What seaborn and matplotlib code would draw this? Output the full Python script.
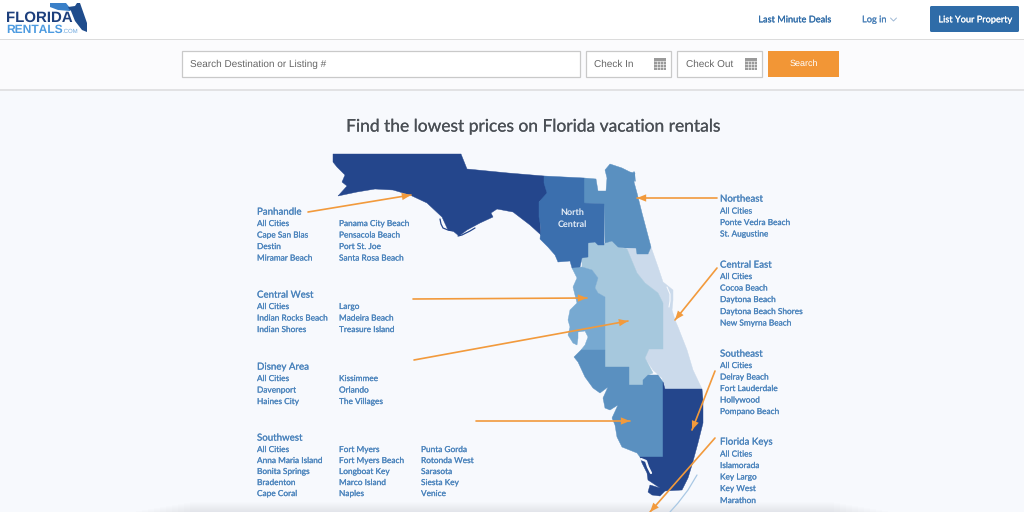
import matplotlib
matplotlib.use("Agg")
import matplotlib.pyplot as plt
import matplotlib.patches as mpatches
import matplotlib.patheffects as pe
import pandas as pd
import seaborn as sns

# region outlines in page pixels
panhandle = [(333,154),(461,154),(467,169),(508,173),(544,176),(548,195),(539,202),(541,235),(530,225),(513,212),
             (497,209),(491,213),(493,217),(480,223),(467,230),(459,236),(453,231),(448,230),(442,217),(427,203),
             (410,195),(393,190),(375,189),(357,192),(338,196),(347,186),(342,182),(345,175),(337,167),(333,162)]
north_central = [(544,176),(584,178),(584,203),(604,204),(604,245),(598,245),(595,242),(588,243),(588,257),(582,258),
                 (580,267),(572,268),(570,261),(558,262),(555,255),(548,247),(540,239),(541,228),(539,217),(539,202),
                 (547,193),(544,183)]
northeast = [(584,178),(596,179),(598,191),(606,191),(607,178),(605,170),(610,164),(622,168),(630,172),(635,173),
             (634,182),(637,193),(642,213),(651,247),(648,254),(637,254),(636,248),(625,248),(618,247),(612,241),
             (605,243),(604,204),(584,203)]
central_east = [(651,247),(658,267),(663,282),(673,290),(673,300),(672,310),(675,320),(678,327),(687,350),(693,370),(702,389),
                (665,389),(662,378),(653,370),(645,358),(649,349),(663,349),(663,303),(658,293),(645,283),(637,273),(627,249),
                (636,248),(637,254),(648,254)]
disney_area = [(588,243),(595,242),(598,245),(605,243),(612,241),(618,247),(627,249),(637,273),(645,283),(658,293),
               (663,303),(663,349),(649,349),(645,358),(653,373),(648,375),(643,380),(643,385),(629,385),(629,367),
               (605,367),(605,297),(598,293),(595,288),(598,278),(592,270),(582,267),(582,258),(588,257)]
central_west = [(572,268),(582,267),(592,270),(598,278),(595,288),(598,293),(605,297),(605,350),(581,350),(585,345),
                (588,337),(585,331),(578,332),(578,338),(577,345),(573,343),(568,335),(570,327),(568,320),(570,310),
                (577,303),(573,287),(577,278)]
southwest = [(581,350),(605,350),(605,367),(629,367),(629,385),(643,385),(643,380),(648,375),(658,375),(663,382),
             (663,457),(640,457),(637,453),(622,447),(617,437),(615,425),(612,418),(618,405),(610,410),(605,408),
             (603,398),(608,387),(600,393),(593,388),(585,377),(578,362),(574,357)]
southeast = [(663,382),(665,389),(702,389),(703,400),(703,423),(698,443),(692,465),(688,478),(682,490),(665,491),
             (660,496),(652,495),(648,492),(650,485),(660,488),(648,480),(647,473),(642,463),(640,457),(663,457)]
keys_curve = [(697,475),(688,490),(678,503),(670,512)]
logo_west = [(50,3),(66,3),(70,8),(70,11),(58,10),(50,7)]
logo_east = [(66,3),(68,7),(75,6),(77,3),(80,3),(87,23),(87,32),(82,30),(75,21),(71,11),(69,9)]

regions = ["Panhandle", "Central West", "Disney Area", "Southwest", "Northeast", "Central East", "Southeast", "Florida Keys"]
cities = [
    ["All Cities", "Cape San Blas", "Destin", "Miramar Beach", "Panama City Beach", "Pensacola Beach", "Port St. Joe", "Santa Rosa Beach"],
    ["All Cities", "Indian Rocks Beach", "Indian Shores", "Largo", "Madeira Beach", "Treasure Island"],
    ["All Cities", "Davenport", "Haines City", "Kissimmee", "Orlando", "The Villages"],
    ["All Cities", "Anna Maria Island", "Bonita Springs", "Bradenton", "Cape Coral", "Fort Myers", "Fort Myers Beach", "Longboat Key",
     "Marco Island", "Naples", "Punta Gorda", "Rotonda West", "Sarasota", "Siesta Key", "Venice"],
    ["All Cities", "Ponte Vedra Beach", "St. Augustine"],
    ["All Cities", "Cocoa Beach", "Daytona Beach", "Daytona Beach Shores", "New Smyrna Beach"],
    ["All Cities", "Delray Beach", "Fort Lauderdale", "Hollywood", "Pompano Beach"],
    ["All Cities", "Islamorada", "Key Largo", "Key West", "Marathon"],
]
arrow_starts = [(308,212),(413,299),(414,360),(476,421),(717,198),(717,268),(715,371),(715,438)]
arrow_tips = [(411,195),(587,298),(628,321),(630,421),(637,198),(675,320),(692,430),(650,512)]

NAVY = "#24468c"
MID = "#3b6fae"
STEEL = "#5a90c0"
SKY = "#77a9d1"
PALE = "#a6c8dd"
MIST = "#cbdaeb"
LINK = "#4a83bc"
ORANGE = "#f29a3c"
PAGE = "#f7f9fd"

sns.set_theme(style="white")
plt.rcParams["font.family"] = ["Lato", "DejaVu Sans"]
plt.rcParams["text.hinting"] = "no_hinting"
plt.rcParams["text.hinting_factor"] = 1

fig, ax = plt.subplots(figsize=(10.24, 5.12), dpi=100)
fig.subplots_adjust(0, 0, 1, 1)
ax.set_xlim(0, 1024)
ax.set_ylim(512, 0)
ax.axis("off")


def box(x0, y0, x1, y1, face, edge="none", lw=0, z=1, alpha=None):
    ax.add_patch(mpatches.Rectangle((x0, y0), x1 - x0, y1 - y0, fc=face, ec=edge, lw=lw, zorder=z, alpha=alpha))


def label(x, y, s, size, color, stroke=0.12, **kw):
    t = ax.text(x, y + 0.8, s, fontsize=size * 0.72, color=color, zorder=10, va="center", **kw)
    # the page font is a bit heavier than Lato at this size
    if stroke:
        t.set_path_effects([pe.withStroke(linewidth=stroke, foreground=color)])


# page bands
box(0, 0, 1024, 512, PAGE, z=0)
box(0, 0, 1024, 39, "white")
box(0, 40, 1024, 89, "#fbfbfd")
box(0, 38.5, 1024, 40, "#dcdcdc", z=2)
box(0, 89, 1024, 90.5, "#e2e2e4", z=2)
# soft shadow at the bottom edge
for i in range(10):
    box(190 - i * 6, 502 + i, 834 + i * 6, 512, "#8a8f99", alpha=0.012, z=1)

# logo
ax.fill(*zip(*logo_west), color="#3a80c8", lw=0, zorder=3)
ax.fill(*zip(*logo_east), color="#1f4c8c", lw=0, zorder=3)
ax.text(6, 17.5, "FLORIDA", fontsize=10.8, color="#1d3f7c", fontweight="bold", family="Liberation Sans", va="center", zorder=5)
ax.text(6.5, 29.5, "RENTALS", fontsize=8.8, color="#4d9be0", fontweight="bold", family="Liberation Sans", va="center", zorder=5)
ax.text(62, 31, ".COM", fontsize=4.4, color="#6aa6dd", family="Liberation Sans", va="center", zorder=5)

# header nav
label(794, 19, "Last Minute Deals", 9.2, "#2f6ca8", ha="center")
label(874, 19, "Log in", 9.2, "#4a80b8", ha="center")
ax.plot([890.5, 893.5, 896.5], [18, 21, 18], color="#9db8d4", lw=0.7, zorder=5)
ax.add_patch(mpatches.FancyBboxPatch((930, 6), 89, 26, boxstyle="round,pad=0,rounding_size=1.5", fc="#2f6ca8", ec="none", zorder=3))
label(974.5, 19, "List Your Property", 9.2, "white", ha="center")

# search row
for x0, x1, txt in [(182, 580, "Search Destination or Listing #"), (586, 671, "Check In"), (677, 762, "Check Out")]:
    box(x0, 51, x1, 77, "white", "#c9c9c9", 0.9, z=3)
    ax.text(x0 + 8.5, 64, txt, fontsize=7.3, color="#666666", family="Liberation Sans", va="center", zorder=5)
for x0 in [654, 745]:
    box(x0, 57.5, x0 + 12, 70, "#9a9a9a", z=4)
    for k in range(1, 4):
        ax.plot([x0 + 3 * k] * 2, [61, 70], color="white", lw=0.4, zorder=5)
    for k in range(3):
        ax.plot([x0, x0 + 12], [61 + 3 * k] * 2, color="white", lw=0.4, zorder=5)
box(768, 51, 839, 77, "#f29636", z=3)
ax.text(803.5, 63.5, "Search", fontsize=6.6, color="white", family="Liberation Sans", ha="center", va="center", zorder=5)

label(529, 126, "Find the lowest prices on Florida vacation rentals", 17.4, "#4a4f55", ha="center")

# map
for shape, col in [(panhandle, NAVY), (central_east, MIST), (disney_area, PALE), (central_west, SKY),
                   (southwest, STEEL), (northeast, STEEL), (north_central, MID), (southeast, NAVY)]:
    ax.fill(*zip(*shape), fc=col, ec=col, lw=0.3, zorder=3)
ax.plot([440, 441, 443, 448, 453], [219, 224, 228, 230, 231], color=NAVY, lw=0.9, zorder=3)
ax.plot([458, 462, 470, 475], [236, 235, 231, 228], color=NAVY, lw=0.9, zorder=3)
ax.plot([462, 467], [231, 224], color=NAVY, lw=1.3, zorder=3)
ax.plot([667, 670, 670, 669], [287, 294, 301, 307], color=PAGE, lw=0.8, zorder=4)
ax.plot([634, 635], [172, 181], color=STEEL, lw=1, zorder=3)
ax.plot([641, 646, 648, 651], [459, 461, 467, 473], color=PAGE, lw=1.6, zorder=4)
ax.plot(*zip(*keys_curve), color="#a9c8e4", lw=0.9, zorder=3)
label(572.5, 212, "North", 9.3, "#e6eef7", stroke=0, ha="center", fontweight="bold")
label(572.5, 223.5, "Central", 9.3, "#e6eef7", stroke=0, ha="center", fontweight="bold")

# arrows
arrows = pd.DataFrame(
    [(i, *p) for i, pair in enumerate(zip(arrow_starts, arrow_tips)) for p in pair],
    columns=["arrow", "x", "y"],
)
sns.lineplot(data=arrows, x="x", y="y", units="arrow", estimator=None, sort=False, color=ORANGE, lw=1.2, ax=ax, zorder=6)
for start, tip in zip(arrow_starts, arrow_tips):
    ax.annotate("", xy=tip, xytext=start, zorder=6,
                arrowprops=dict(arrowstyle="-|>,head_length=0.55,head_width=0.22", color=ORANGE, lw=0, shrinkA=0, shrinkB=0,
                                mutation_scale=12))
ax.set_xlim(0, 1024)
ax.set_ylim(512, 0)

# link lists: heading, then columns of rows
heading_pos = [(257, 211), (257, 294), (257, 366), (257, 437), (720, 198), (720, 264), (720, 353), (720, 441)]
rows_y = [
    [223, 234.5, 246, 257.5],
    [306, 317.5, 329],
    [378, 389.5, 401],
    [449, 460, 471, 482, 493],
    [210.5, 222, 233.5],
    [276, 287.5, 299, 311, 322.5],
    [365, 376.5, 388, 399.5, 411],
    [453.5, 465, 476.5, 488, 500],
]
for name, places, (hx, hy), ys in zip(regions, cities, heading_pos, rows_y):
    label(hx, hy, name, 9.7, LINK)
    for i, place in enumerate(places):
        col, row = divmod(i, len(ys))
        label(hx + col * 82, ys[row], place, 8.3, LINK)

fig.savefig("out.png", dpi=100)
